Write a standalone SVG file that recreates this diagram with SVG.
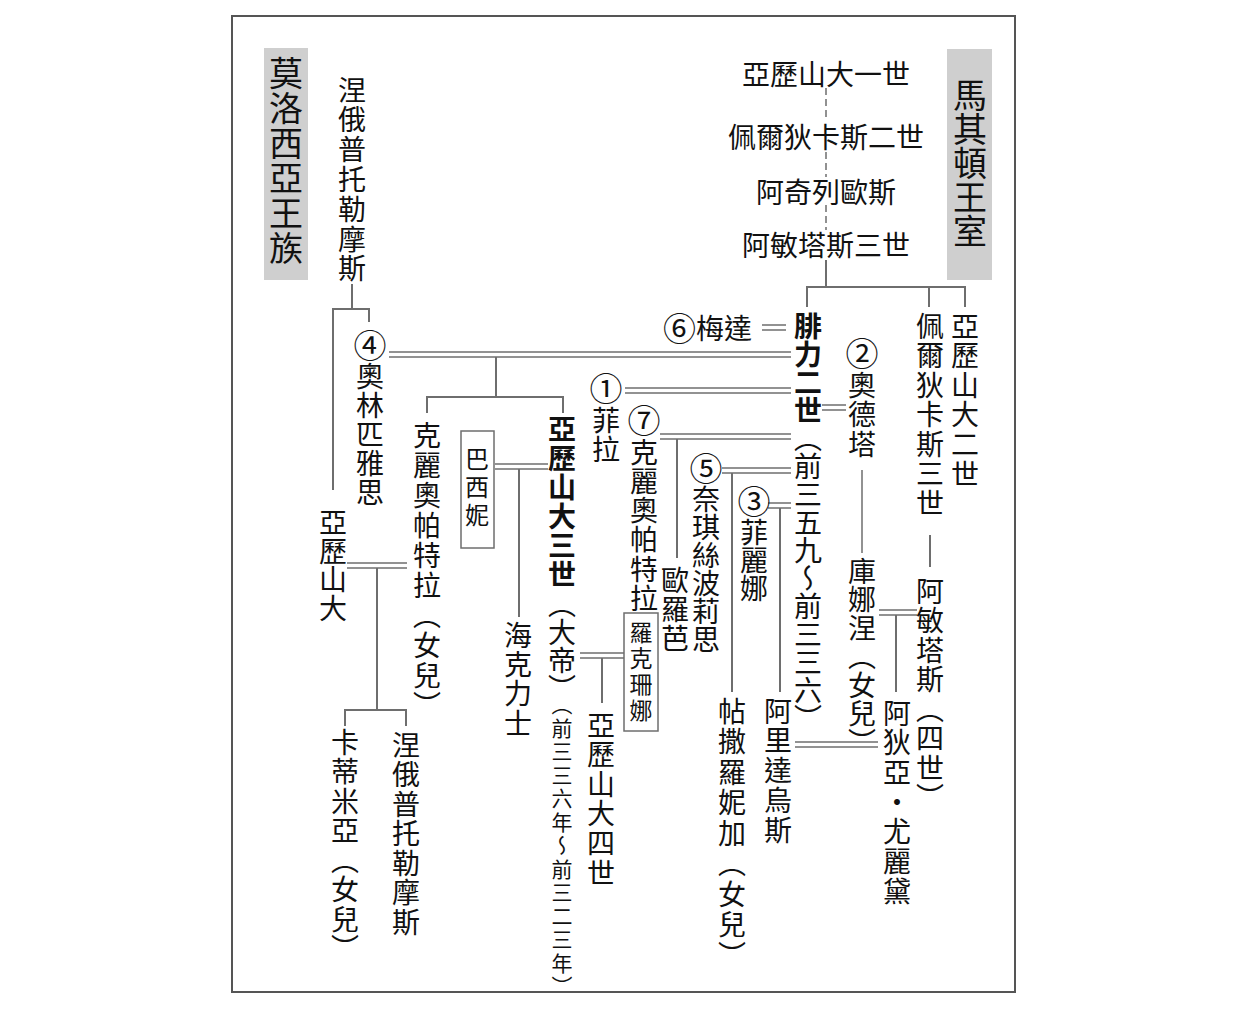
<svg xmlns="http://www.w3.org/2000/svg" width="1250" height="1009" viewBox="0 0 1250 1009">
<style>
.v{writing-mode:vertical-rl;font-family:"Noto Sans CJK TC","Noto Sans CJK SC",sans-serif;font-size:28px;fill:#111}
.h{font-family:"Noto Sans CJK TC","Noto Sans CJK SC",sans-serif;font-size:28px;fill:#111;dominant-baseline:central}
.b{font-weight:bold}
.s{font-size:21px}
.t{font-size:34px}
.n{font-size:33px}
.c line,.c path{stroke:#6e6e6e;stroke-width:2;fill:none}
.c .d{stroke-width:1.5}
.c .dash{stroke-dasharray:7 4;stroke-width:1.5}
.box{fill:#fff;stroke:#6e6e6e;stroke-width:1.5}
</style>
<rect width="1250" height="1009" fill="#fff"/>
<rect x="232" y="16" width="783" height="976" fill="none" stroke="#555" stroke-width="2"/>

<g id="connectors" class="c">
<line class="dash" x1="826" y1="88" x2="826" y2="118"/>
<line class="dash" x1="826" y1="152" x2="826" y2="177"/>
<line class="dash" x1="826" y1="205" x2="826" y2="230"/>
<line x1="826" y1="260" x2="826" y2="287"/>
<path d="M807 307V287H965V307M929 287V307"/>
<line x1="352" y1="284" x2="352" y2="309"/>
<path d="M333 490V309H369V322"/>
<line class="d" x1="762" y1="325" x2="786" y2="325"/><line class="d" x1="762" y1="330" x2="786" y2="330"/>
<line class="d" x1="389" y1="352" x2="791" y2="352"/><line class="d" x1="389" y1="357" x2="791" y2="357"/>
<line class="d" x1="625" y1="388" x2="791" y2="388"/><line class="d" x1="625" y1="393" x2="791" y2="393"/>
<line class="d" x1="822" y1="405" x2="846" y2="405"/><line class="d" x1="822" y1="410" x2="846" y2="410"/>
<line class="d" x1="660" y1="434" x2="791" y2="434"/><line class="d" x1="660" y1="439" x2="791" y2="439"/>
<line class="d" x1="722" y1="468" x2="791" y2="468"/><line class="d" x1="722" y1="473" x2="791" y2="473"/>
<line class="d" x1="768" y1="503" x2="791" y2="503"/><line class="d" x1="768" y1="508" x2="791" y2="508"/>
<line class="d" x1="495" y1="464" x2="548" y2="464"/><line class="d" x1="495" y1="469" x2="548" y2="469"/>
<line class="d" x1="347" y1="563" x2="407" y2="563"/><line class="d" x1="347" y1="568" x2="407" y2="568"/>
<line class="d" x1="879" y1="610" x2="917" y2="610"/><line class="d" x1="879" y1="615" x2="917" y2="615"/>
<line class="d" x1="580" y1="653" x2="625" y2="653"/><line class="d" x1="580" y1="658" x2="625" y2="658"/>
<line class="d" x1="795" y1="742" x2="878" y2="742"/><line class="d" x1="795" y1="747" x2="878" y2="747"/>
<path d="M496 357V397M427 413V397H563V413"/>
<line x1="677" y1="439" x2="677" y2="558"/>
<line x1="732" y1="473" x2="732" y2="692"/>
<line x1="780" y1="508" x2="780" y2="692"/>
<line x1="519" y1="469" x2="519" y2="617"/>
<path d="M377 568V710M345 726V710H406V726"/>
<line x1="602" y1="658" x2="602" y2="703"/>
<line class="d" x1="862" y1="470" x2="862" y2="553"/>
<line x1="930" y1="535" x2="930" y2="567"/>
<line x1="896" y1="615" x2="896" y2="692"/>
</g>

<g id="label-molossia"><rect x="264" y="48" width="44" height="232" fill="#cfcfcf"/><text class="v t" x="286" y="56" style="letter-spacing:1px">莫洛西亞王族</text></g>
<g id="label-macedon"><rect x="947" y="49" width="45" height="231" fill="#cfcfcf"/><text class="v t" x="970" y="78">馬其頓王室</text></g>

<g id="n-alexander1"><text class="h" x="826" y="73" text-anchor="middle">亞歷山大一世</text></g>
<g id="n-perdiccas2"><text class="h" x="826" y="136" text-anchor="middle">佩爾狄卡斯二世</text></g>
<g id="n-archelaus"><text class="h" x="826" y="191" text-anchor="middle">阿奇列歐斯</text></g>
<g id="n-amyntas3"><text class="h" x="826" y="244" text-anchor="middle">阿敏塔斯三世</text></g>
<g id="n-meda"><text class="h" x="752" y="327" text-anchor="end"><tspan class="n">⑥</tspan>梅達</text></g>

<g id="n-neoptolemus1"><text class="v" x="352" y="76" style="letter-spacing:1.8px">涅俄普托勒摩斯</text></g>
<g id="n-olympias"><text class="v" x="370" y="329" style="letter-spacing:0.8px"><tspan class="n">④</tspan>奧林匹雅思</text></g>
<g id="n-alexander-mol"><text class="v" x="333" y="508" style="letter-spacing:0.9px">亞歷山大</text></g>
<g id="n-cleopatra-d"><text class="v" x="427" y="421" style="letter-spacing:2px">克麗奧帕特拉（女兒）</text></g>
<g id="n-cadmea"><text class="v" x="345" y="728" style="letter-spacing:1.5px">卡蒂米亞（女兒）</text></g>
<g id="n-neoptolemus2"><text class="v" x="406" y="731" style="letter-spacing:1.5px">涅俄普托勒摩斯</text></g>
<g id="n-barsine"><rect class="box" x="461" y="431" width="33" height="117"/><text class="v" x="477" y="447" style="font-size:24px;letter-spacing:3.7px">巴西妮</text></g>
<g id="n-heracles"><text class="v" x="518" y="621" style="letter-spacing:1.3px">海克力士</text></g>
<g id="n-alexander3"><text class="v b" x="562" y="415" style="letter-spacing:1px">亞歷山大三世</text><text class="v" x="562" y="590">（大帝）</text><text class="v s" x="562" y="694" style="letter-spacing:2.5px">（前三三六年～前三二三年）</text></g>
<g id="n-roxana"><rect class="box" x="624" y="613" width="34" height="118"/><text class="v" x="641" y="621" style="font-size:23px;letter-spacing:2.8px">羅克珊娜</text></g>
<g id="n-alexander4"><text class="v" x="601" y="711" style="letter-spacing:1.6px">亞歷山大四世</text></g>
<g id="n-phila"><text class="v" x="606" y="372" style="letter-spacing:1px"><tspan class="n">①</tspan>菲拉</text></g>
<g id="n-cleopatra7"><text class="v" x="644" y="404" style="letter-spacing:1.2px"><tspan class="n">⑦</tspan>克麗奧帕特拉</text></g>
<g id="n-europa"><text class="v" x="675" y="566" style="letter-spacing:1px">歐羅芭</text></g>
<g id="n-nicesipolis"><text class="v" x="706" y="452"><tspan class="n">⑤</tspan>奈琪絲波莉思</text></g>
<g id="n-thessalonike"><text class="v" x="732" y="697" style="letter-spacing:2.5px">帖撒羅妮加（女兒）</text></g>
<g id="n-philinna"><text class="v" x="754" y="485"><tspan class="n">③</tspan>菲麗娜</text></g>
<g id="n-arrhidaeus"><text class="v" x="778" y="697" style="letter-spacing:1.75px">阿里達烏斯</text></g>
<g id="n-philip2"><text class="v" x="808" y="312"><tspan class="b">腓力二世</tspan>（前三五九～前三三六）</text></g>
<g id="n-audata"><text class="v" x="862" y="337" style="letter-spacing:1.3px"><tspan class="n">②</tspan>奧德塔</text></g>
<g id="n-cynane"><text class="v" x="862" y="557" style="letter-spacing:0.5px">庫娜涅（女兒）</text></g>
<g id="n-eurydice"><text class="v" x="897" y="699" style="letter-spacing:1.7px">阿狄亞・尤麗黛</text></g>
<g id="n-perdiccas3"><text class="v" x="930" y="312" style="letter-spacing:1.5px">佩爾狄卡斯三世</text></g>
<g id="n-amyntas4"><text class="v" x="930" y="577" style="letter-spacing:1.5px">阿敏塔斯（四世）</text></g>
<g id="n-alexander2"><text class="v" x="965" y="312" style="letter-spacing:1.6px">亞歷山大二世</text></g>
</svg>
